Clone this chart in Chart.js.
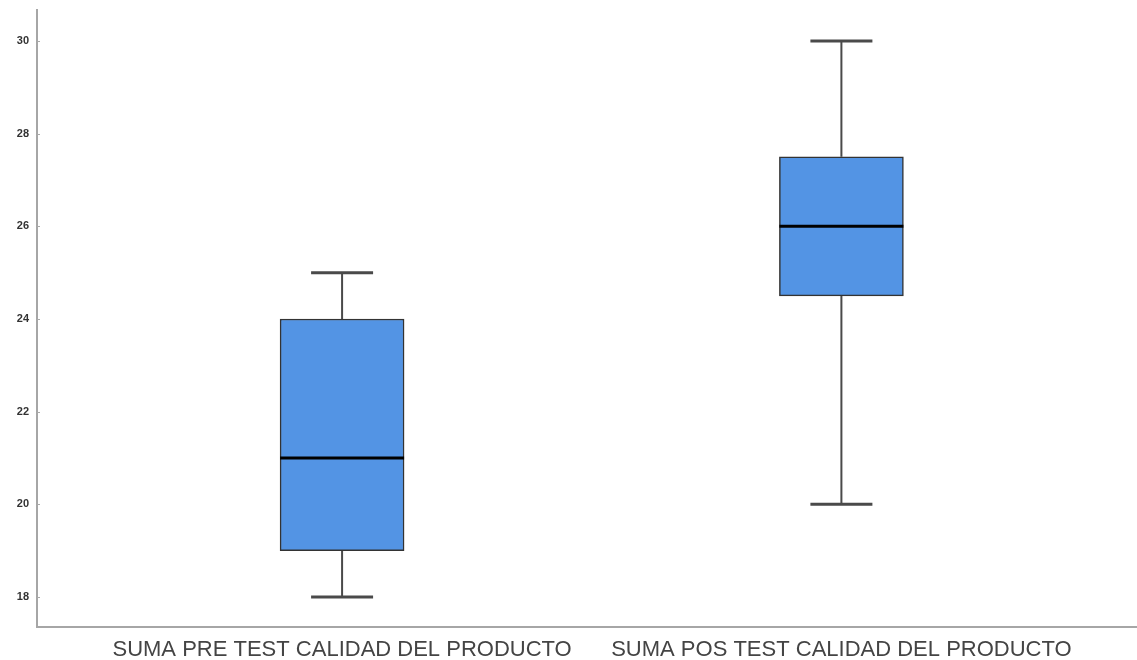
<!DOCTYPE html>
<html>
<head>
<meta charset="utf-8">
<script src="https://cdn.jsdelivr.net/npm/chart.js@4/dist/chart.umd.min.js"></script>
<style>
  html, body { margin: 0; padding: 0; background: #fff; }
  #wrap { width: 1137px; height: 660px; }
</style>
</head>
<body>
<div id="wrap"><canvas id="c" width="1137" height="660"></canvas></div>
<script>
// Variables and their five-number summaries
const categories = ['SUMA PRE TEST CALIDAD DEL PRODUCTO', 'SUMA POS TEST CALIDAD DEL PRODUCTO'];
const positions = [1, 2];
const mins = [18, 20];
const q1s = [19, 24.5];
const medians = [21, 26];
const q3s = [24, 27.5];
const maxs = [25, 30];
const yTicks = [18, 20, 22, 24, 26, 28, 30];

// Whiskers, caps and medians drawn around the floating boxes
const boxExtras = {
  id: 'boxExtras',
  beforeDatasetsDraw(chart) {
    const { ctx, scales: { x, y } } = chart;
    const meta = chart.getDatasetMeta(0);
    ctx.save();
    positions.forEach((p, i) => {
      const cx = x.getPixelForValue(p);
      const half = meta.data[i].width / 2;
      ctx.strokeStyle = '#4a4a4a';
      ctx.lineWidth = 2;
      ctx.beginPath();
      ctx.moveTo(cx, y.getPixelForValue(maxs[i]));
      ctx.lineTo(cx, y.getPixelForValue(q3s[i]));
      ctx.moveTo(cx, y.getPixelForValue(q1s[i]));
      ctx.lineTo(cx, y.getPixelForValue(mins[i]));
      ctx.stroke();
      ctx.lineWidth = 3;
      ctx.beginPath();
      [maxs[i], mins[i]].forEach(v => {
        const py = y.getPixelForValue(v);
        ctx.moveTo(cx - half / 2, py);
        ctx.lineTo(cx + half / 2, py);
      });
      ctx.stroke();
    });
    ctx.restore();
  },
  afterDatasetsDraw(chart) {
    const { ctx, scales: { x, y } } = chart;
    const meta = chart.getDatasetMeta(0);
    ctx.save();
    ctx.strokeStyle = '#000';
    ctx.lineWidth = 3;
    positions.forEach((p, i) => {
      const cx = x.getPixelForValue(p);
      const half = meta.data[i].width / 2;
      const py = y.getPixelForValue(medians[i]);
      ctx.beginPath();
      ctx.moveTo(cx - half, py);
      ctx.lineTo(cx + half, py);
      ctx.stroke();
    });
    // short tick marks on the inner side of the value axis
    ctx.strokeStyle = '#aaa';
    ctx.lineWidth = 1;
    yTicks.forEach(v => {
      const py = Math.round(y.getPixelForValue(v)) + 0.5;
      ctx.beginPath();
      ctx.moveTo(y.right, py);
      ctx.lineTo(y.right + 3, py);
      ctx.stroke();
    });
    ctx.restore();
  }
};

new Chart(document.getElementById('c'), {
  type: 'bar',
  data: {
    datasets: [{
      data: positions.map((p, i) => ({ x: p, y: [q1s[i], q3s[i]] })),
      backgroundColor: '#5394e4',
      borderColor: '#333',
      borderWidth: 1.5,
      borderSkipped: false,
      barThickness: 124
    }]
  },
  options: {
    responsive: false,
    animation: false,
    layout: { padding: { top: 10, left: 0, right: 0, bottom: 0 } },
    plugins: { legend: { display: false }, tooltip: { enabled: false } },
    scales: {
      x: {
        type: 'linear',
        offset: false,
        min: 0.389,
        max: 2.592,
        afterBuildTicks(scale) { scale.ticks = positions.map(v => ({ value: v })); },
        afterFit(scale) { scale.height = 33; scale.paddingLeft = 0; scale.paddingRight = 0; },
        grid: { display: false, drawTicks: false, offset: false },
        border: { color: '#a6a6a6', width: 2 },
        ticks: {
          padding: 10,
          color: '#444',
          font: { family: 'Liberation Sans, Arial, sans-serif', size: 22 },
          callback(v) { const i = positions.indexOf(v); return i >= 0 ? categories[i] : ''; },
          maxRotation: 0,
          autoSkip: false
        }
      },
      y: {
        min: 17.35,
        max: 30.67,
        afterBuildTicks(scale) { scale.ticks = yTicks.map(v => ({ value: v })); },
        afterFit(scale) { scale.width = 37; scale.paddingTop = 0; scale.paddingBottom = 0; },
        grid: { display: false, drawTicks: false },
        border: { color: '#a6a6a6', width: 2 },
        ticks: {
          padding: 8,
          color: '#333',
          font: { family: 'Liberation Sans, Arial, sans-serif', size: 11, weight: 'bold' }
        }
      }
    }
  },
  plugins: [boxExtras]
});
</script>
</body>
</html>
